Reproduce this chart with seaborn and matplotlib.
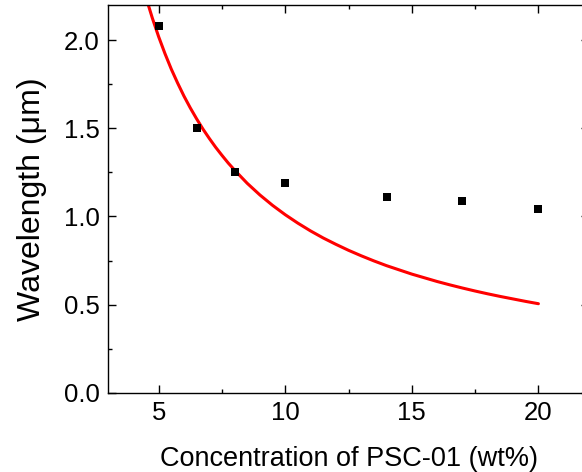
import numpy as np
import pandas as pd
import matplotlib
matplotlib.use("Agg")
import matplotlib.pyplot as plt
import seaborn as sns
from matplotlib.ticker import MultipleLocator, FormatStrFormatter

# =====================================================
# DATA
# =====================================================

conc = [5, 6.5, 8, 10, 14, 17, 20]
wavelength = [2.08, 1.50, 1.25, 1.19, 1.11, 1.09, 1.04]

# red fitted curve, sampled by eye along the line
fit_x = [4.5, 4.6, 4.75, 5.0, 5.25, 5.5, 5.75, 6.0, 6.25, 6.5, 6.75, 7.0, 7.25, 7.5,
         7.75, 8.0, 8.5, 9.0, 9.5, 10.0, 10.5, 11.0, 11.5, 12.0, 12.5, 13.0, 13.5,
         14.0, 14.5, 15.0, 15.5, 16.0, 16.5, 17.0, 17.5, 18.0, 18.5, 19.0, 19.5, 20.0]
fit_y = [2.244, 2.196, 2.126, 2.020, 1.924, 1.836, 1.757, 1.683, 1.616, 1.554, 1.496,
         1.443, 1.393, 1.347, 1.303, 1.263, 1.188, 1.122, 1.063, 1.010, 0.962, 0.918,
         0.878, 0.842, 0.808, 0.777, 0.748, 0.721, 0.697, 0.673, 0.652, 0.631, 0.612,
         0.594, 0.577, 0.561, 0.546, 0.532, 0.518, 0.505]

# =====================================================
# STYLE
# =====================================================

sns.set_theme(style="ticks")
plt.rcParams["font.family"] = ["Liberation Sans", "DejaVu Sans"]
plt.rcParams.update({
    "text.color": "black",
    "axes.labelcolor": "black",
    "xtick.color": "black",
    "ytick.color": "black",
    "axes.edgecolor": "black",
})

points = pd.DataFrame({"conc": conc, "wavelength": wavelength})
fit = pd.DataFrame({"x": fit_x, "y": fit_y})

fig = plt.figure(figsize=(5.82, 4.72), dpi=100)
# the axes box runs slightly past the right edge of the figure, like the cropped original
ax = fig.add_axes([0.1856, 0.168, 0.8265, 0.8214])

sns.lineplot(data=fit, x="x", y="y", ax=ax, color="#ff0000", linewidth=2.2, sort=False)
sns.scatterplot(data=points, x="conc", y="wavelength", ax=ax, marker="s", s=40,
                color="black", edgecolor="black", linewidth=0, zorder=3)

ax.set_xlim(3, 22)
ax.set_ylim(0, 2.2)
ax.xaxis.set_major_locator(MultipleLocator(5))
ax.xaxis.set_minor_locator(MultipleLocator(2.5))
ax.yaxis.set_major_locator(MultipleLocator(0.5))
ax.yaxis.set_minor_locator(MultipleLocator(0.25))
ax.yaxis.set_major_formatter(FormatStrFormatter("%.1f"))

ax.tick_params(which="both", direction="in", top=True, right=True, width=1.0,
               labelsize=18.5, pad=6)
ax.tick_params(which="major", length=6)
ax.tick_params(which="minor", length=3)
for sp in ax.spines.values():
    sp.set_linewidth(1.0)
    sp.set_visible(True)

ax.set_xlabel("Concentration of PSC-01 (wt%)", fontsize=19.5, labelpad=15)
ax.set_ylabel("Wavelength (\u03bcm)", fontsize=23, labelpad=12)

fig.savefig("out.png", dpi=100)
